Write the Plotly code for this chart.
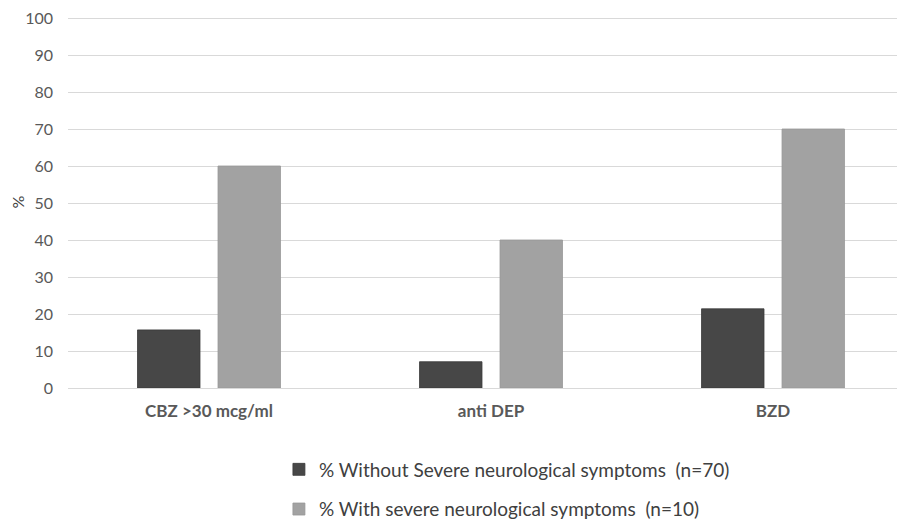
import plotly.graph_objects as go

categories = ["CBZ >30 mcg/ml", "anti DEP", "BZD"]
without_severe = [15.7, 7.1, 21.4]
with_severe = [60, 40, 70]
series_names = ["% Without Severe neurological symptoms  (n=70)",
                "% With severe neurological symptoms  (n=10)"]
y_ticks = [0, 10, 20, 30, 40, 50, 60, 70, 80, 90, 100]

FONT = "Lato, 'Open Sans', sans-serif"

fig = go.Figure()
fig.add_trace(go.Bar(x=categories, y=without_severe, name=series_names[0],
                     marker=dict(color="#474747", line=dict(color="#3a3a3a", width=0.8)),
                     legendgroup="a"))
fig.add_trace(go.Bar(x=categories, y=with_severe, name=series_names[1],
                     marker=dict(color="#a2a2a2", line=dict(color="#989898", width=0.8)),
                     legendgroup="b"))

fig.update_layout(
    width=905, height=522,
    margin=dict(l=60, r=8, t=8, b=142, autoexpand=False),
    paper_bgcolor="white", plot_bgcolor="white",
    barmode="group", bargap=0.429, bargroupgap=0.224,
    font=dict(family=FONT, color="#595959", size=16),
    showlegend=True,
    legend=dict(x=0.252, y=-0.168,
                xanchor="left", yanchor="top", orientation="v",
                font=dict(size=19, color="#404040"),
                traceorder="grouped", tracegroupgap=12,
                itemwidth=30, bgcolor="rgba(0,0,0,0)"),
    xaxis=dict(showgrid=False, showline=False, zeroline=False,
               range=[-0.5, 2.468],
               tickfont=dict(size=17, color="#595959", family=FONT, weight="bold"),
               ticks="", ticklabelstandoff=11, tickangle=0, automargin=False),
    yaxis=dict(range=[0, 100.54], tickvals=y_ticks, showgrid=True,
               gridcolor="#d9d9d9", gridwidth=1, zeroline=True,
               zerolinecolor="#d9d9d9", zerolinewidth=1, automargin=False,
               ticklabeloverflow="allow",
               tickfont=dict(size=16, color="#595959"), ticklabelstandoff=14,
               title=dict(text="%", font=dict(size=16, color="#404040"), standoff=14)),
)

fig.write_html("out.html")
